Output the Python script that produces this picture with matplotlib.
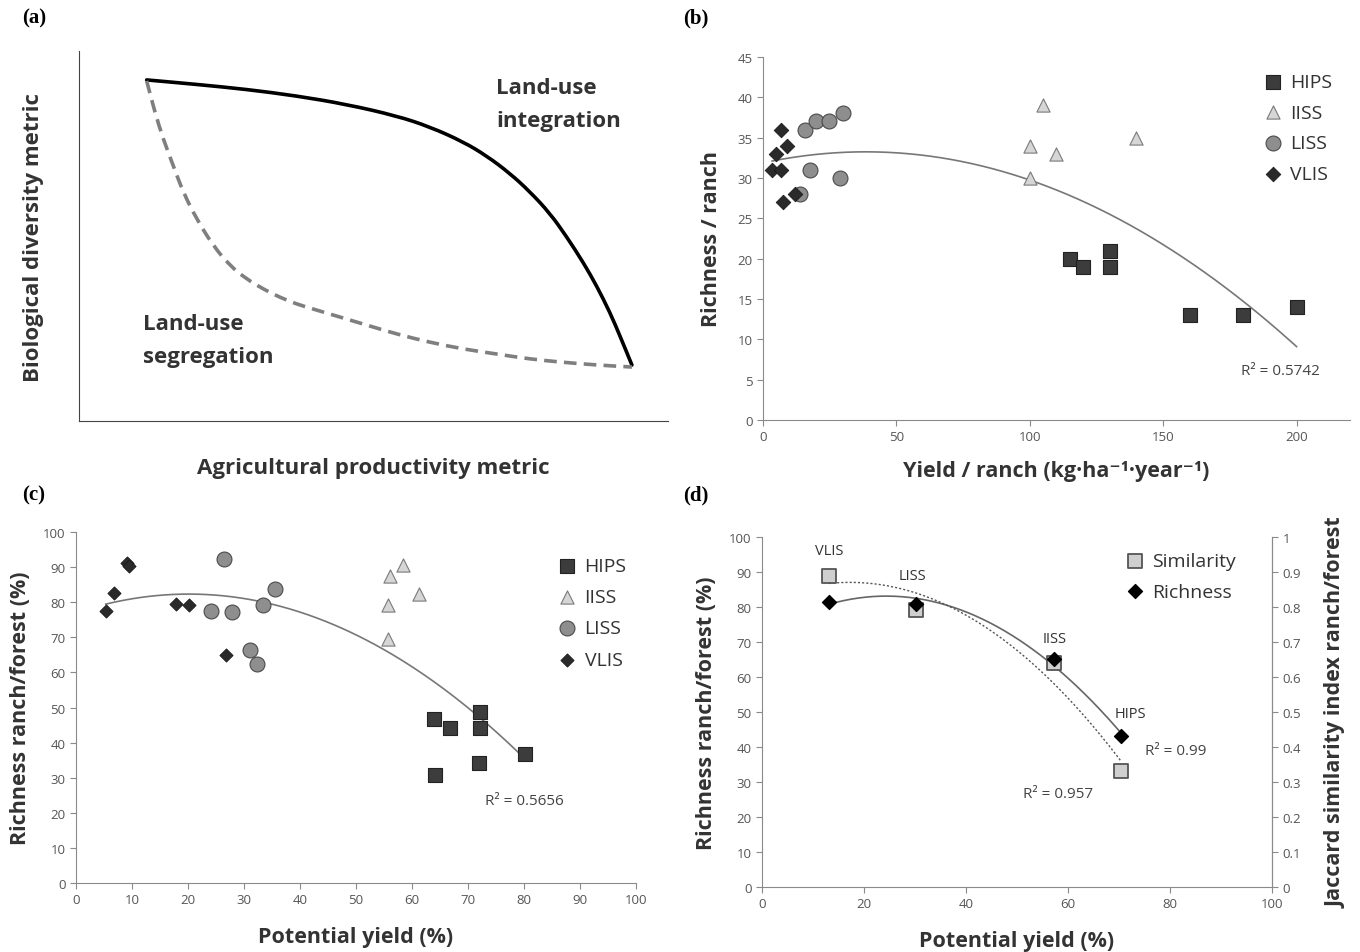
import numpy as np
import matplotlib.pyplot as plt
from matplotlib.path import Path
from matplotlib.patches import PathPatch

plt.rcParams['font.family'] = ['Open Sans', 'DejaVu Sans']

integ_x = [0.1149, 0.1998, 0.2847, 0.3696, 0.4545, 0.5394, 0.5959, 0.6525, 0.6922,
           0.7317, 0.7657, 0.7997, 0.8280, 0.8562, 0.8789, 0.9015, 0.9185, 0.9389]
integ_y = [0.9224, 0.9103, 0.8968, 0.8792, 0.8562, 0.8251, 0.7954, 0.7549, 0.7170,
           0.6697, 0.6200, 0.5616, 0.4984, 0.4289, 0.3657, 0.2938, 0.2305, 0.1514]
segr_x = [0.1149, 0.1290, 0.1431, 0.1601, 0.1771, 0.1998, 0.2280, 0.2564, 0.2847,
          0.3129, 0.3413, 0.3696, 0.3978, 0.4261, 0.4827, 0.5394, 0.5959, 0.6525,
          0.7092, 0.7657, 0.8222, 0.8789, 0.9389]
segr_y = [0.9197, 0.8343, 0.7622, 0.6900, 0.6181, 0.5459, 0.4738, 0.4197, 0.3838,
          0.3568, 0.3343, 0.3162, 0.3027, 0.2892, 0.2622, 0.2351, 0.2127, 0.1946,
          0.1811, 0.1676, 0.1586, 0.1514, 0.1459]

# ---- (b) richness / ranch vs yield / ranch
groups = ['HIPS', 'IISS', 'LISS', 'VLIS']
b_hips_x = [115, 120, 130, 130, 160, 180, 200]
b_hips_y = [20, 19, 21, 19, 13, 13, 14]
b_iiss_x = [100, 105, 110, 100, 140]
b_iiss_y = [34, 39, 33, 30, 35]
b_liss_x = [14, 17.6, 15.8, 19.9, 24.8, 29.9, 28.7]
b_liss_y = [28, 31, 36, 37, 37, 38, 30]
b_vlis_x = [3.4, 6.7, 4.8, 6.7, 8.9, 7.6, 12]
b_vlis_y = [31, 31, 33, 36, 34, 27, 28]

# ---- (c) richness ranch/forest vs potential yield
c_hips_x = [64.0, 66.8, 72.2, 72.2, 72.0, 64.1, 80.1]
c_hips_y = [46.6, 44.3, 48.7, 44.3, 34.1, 30.8, 36.7]
c_iiss_x = [55.7, 56.1, 58.4, 61.3, 55.7]
c_iiss_y = [79.1, 87.6, 90.5, 82.4, 69.6]
c_liss_x = [26.5, 24.1, 27.9, 33.4, 35.6, 31.1, 32.3]
c_liss_y = [92.4, 77.4, 77.2, 79.1, 83.8, 66.5, 62.5]
c_vlis_x = [5.3, 6.7, 9.1, 9.4, 17.8, 20.1, 26.7]
c_vlis_y = [77.4, 82.5, 91.2, 90.3, 79.5, 79.1, 65.1]

# ---- (d) group means
d_names = ['VLIS', 'LISS', 'IISS', 'HIPS']
d_yield = [13.1, 30.1, 57.3, 70.3]
d_richness = [81.5, 80.8, 65.1, 43.1]
d_similarity = [0.889, 0.79, 0.64, 0.33]

styles = {
    'HIPS': dict(marker='s', s=100, c='#3c3c3c', edgecolors='#222222', linewidths=0.8),
    'IISS': dict(marker='^', s=90, c='#d6d6d6', edgecolors='#7a7a7a', linewidths=0.8),
    'LISS': dict(marker='o', s=115, c='#8e8e8e', edgecolors='#4a4a4a', linewidths=0.8),
    'VLIS': dict(marker='D', s=55, c='#2a2a2a', edgecolors='#1a1a1a', linewidths=0.6),
}

axis_col = '#8a8a8a'
tick_col = '#555555'
label_col = '#333333'
lab_fs = 15.5
leg_kw = dict(frameon=False, fontsize=14, handlelength=1.2, handletextpad=0.3,
              borderaxespad=0, labelcolor='#333333', loc='upper left')


def excel_axes(ax):
    for side in ['top', 'right']:
        ax.spines[side].set_visible(False)
    for side in ['left', 'bottom']:
        ax.spines[side].set_color(axis_col)
    ax.tick_params(colors=axis_col, labelcolor=tick_col, labelsize=9.5, length=4, width=0.8)


def trend(ax, xs, ys, **kw):
    coef = np.polyfit(xs, ys, 2)
    xx = np.linspace(min(xs), max(xs), 200)
    ax.plot(xx, np.polyval(coef, xx), **kw)


def smooth_path(xs, ys):
    # read points used as quadratic bezier controls, curve runs through the midpoints
    pts = np.column_stack([xs, ys])
    mids = (pts[:-1] + pts[1:]) / 2
    verts = [pts[0], mids[0]]
    codes = [Path.MOVETO, Path.LINETO]
    for i in range(1, len(pts) - 1):
        verts += [pts[i], mids[i]]
        codes += [Path.CURVE3, Path.CURVE3]
    verts.append(pts[-1])
    codes.append(Path.LINETO)
    return Path(verts, codes)


fig = plt.figure(figsize=(13.6, 9.53), dpi=100)

# (a)
ax = fig.add_axes([0.0581, 0.5572, 0.433, 0.388])
ax.set_xlim(0, 1)
ax.set_ylim(0, 1)
ax.add_patch(PathPatch(smooth_path(integ_x, integ_y), fill=False, edgecolor='black', lw=2.6,
                       capstyle='round'))
ax.add_patch(PathPatch(smooth_path(segr_x, segr_y), fill=False, edgecolor='#7f7f7f', lw=2.6,
                       linestyle=(0, (3.5, 2))))
ax.spines['top'].set_visible(False)
ax.spines['right'].set_visible(False)
ax.spines['left'].set_color('#444444')
ax.spines['bottom'].set_color('#444444')
ax.set_xticks([])
ax.set_yticks([])
ax.text(0.708, 0.929, 'Land-use\nintegration', fontsize=16, fontweight='bold', color=label_col,
        va='top', linespacing=1.75)
ax.text(0.108, 0.292, 'Land-use\nsegregation', fontsize=16, fontweight='bold', color=label_col,
        va='top', linespacing=1.75)
ax.set_ylabel('Biological diversity metric', fontsize=16, fontweight='bold', color=label_col, labelpad=25)
ax.set_xlabel('Agricultural productivity metric', fontsize=16, fontweight='bold', color=label_col, labelpad=26)

# (b)
ax = fig.add_axes([0.561, 0.5582, 0.4316, 0.381])
excel_axes(ax)
bx = [b_hips_x, b_iiss_x, b_liss_x, b_vlis_x]
by = [b_hips_y, b_iiss_y, b_liss_y, b_vlis_y]
for g, xs, ys in zip(groups, bx, by):
    ax.scatter(xs, ys, label=g, zorder=3, **styles[g])
trend(ax, sum(bx, []), sum(by, []), color='#777777', lw=1.2, zorder=2)
ax.set_xlim(0, 220)
ax.set_ylim(0, 45)
ax.set_xticks(range(0, 201, 50))
ax.set_yticks(range(0, 46, 5))
ax.text(179, 6.2, 'R² = 0.5742', fontsize=11, color='#444444', va='center')
ax.set_ylabel('Richness / ranch', fontsize=lab_fs, fontweight='bold', color=label_col, labelpad=11)
ax.set_xlabel('Yield / ranch (kg·ha⁻¹·year⁻¹)', fontsize=lab_fs, fontweight='bold', color=label_col,
              labelpad=12)
ax.legend(bbox_to_anchor=(0.835, 0.978), labelspacing=0.66, **leg_kw)

# (c)
ax = fig.add_axes([0.0559, 0.0724, 0.4118, 0.3683])
excel_axes(ax)
cx = [c_hips_x, c_iiss_x, c_liss_x, c_vlis_x]
cy = [c_hips_y, c_iiss_y, c_liss_y, c_vlis_y]
for g, xs, ys in zip(groups, cx, cy):
    st = dict(styles[g])
    if g == 'VLIS':
        st['s'] = 45
    ax.scatter(xs, ys, label=g, zorder=3, **st)
trend(ax, sum(cx, []), sum(cy, []), color='#777777', lw=1.2, zorder=2)
ax.set_xlim(0, 100)
ax.set_ylim(0, 100)
ax.set_xticks(range(0, 101, 10))
ax.set_yticks(range(0, 101, 10))
ax.text(73, 23.4, 'R² = 0.5656', fontsize=11, color='#444444', va='center')
ax.set_ylabel('Richness ranch/forest (%)', fontsize=lab_fs, fontweight='bold', color=label_col, labelpad=9)
ax.set_xlabel('Potential yield (%)', fontsize=lab_fs, fontweight='bold', color=label_col, labelpad=14)
ax.legend(bbox_to_anchor=(0.842, 0.951), labelspacing=0.68, **leg_kw)

# (d)
ax = fig.add_axes([0.5603, 0.0682, 0.375, 0.3673])
excel_axes(ax)
ax.spines['right'].set_visible(True)
ax.spines['right'].set_color(axis_col)
ax2 = ax.twinx()
for side in ['top', 'left', 'bottom']:
    ax2.spines[side].set_visible(False)
ax2.spines['right'].set_color(axis_col)
ax2.tick_params(colors=axis_col, labelcolor=tick_col, labelsize=9.5, length=4, width=0.8)

trend(ax, d_yield, d_richness, color='#666666', lw=1.2, zorder=2)
trend(ax2, d_yield, d_similarity, color='#555555', lw=1.0, ls=(0, (1.5, 1.5)), zorder=2)
ax2.scatter(d_yield, d_similarity, marker='s', s=100, c='#cfcfcf', edgecolors='#555555',
            linewidths=1.3, zorder=3, label='Similarity')
ax2.scatter(d_yield, [r / 100 for r in d_richness], marker='D', s=50, c='black', zorder=4,
            label='Richness')
ax.set_xlim(0, 100)
ax.set_ylim(0, 100)
ax2.set_ylim(0, 1)
ax.set_xticks(range(0, 101, 20))
ax.set_yticks(range(0, 101, 10))
ax2.set_yticks(np.arange(0, 1.01, 0.1))
ax2.set_yticklabels(['0', '0.1', '0.2', '0.3', '0.4', '0.5', '0.6', '0.7', '0.8', '0.9', '1'])
label_pos = [(13.1, 96), (29.4, 89), (57.3, 71), (72.2, 49.5)]
for name, (lx, ly) in zip(d_names, label_pos):
    ax.text(lx, ly, name, fontsize=10.5, color='#333333', ha='center', va='center')
ax.text(75, 38.9, 'R² = 0.99', fontsize=11, color='#444444', va='center')
ax.text(51.2, 26.6, 'R² = 0.957', fontsize=11, color='#444444', va='center')
ax.set_ylabel('Richness ranch/forest (%)', fontsize=lab_fs, fontweight='bold', color=label_col, labelpad=9)
ax.set_xlabel('Potential yield (%)', fontsize=lab_fs, fontweight='bold', color=label_col, labelpad=14)
ax2.set_ylabel('Jaccard similarity index ranch/forest', fontsize=lab_fs, fontweight='bold',
               color=label_col, labelpad=18)
ax2.legend(bbox_to_anchor=(0.693, 0.978), labelspacing=0.62, **leg_kw)

# panel letters
for lbl, (px, py) in zip(['(a)', '(b)', '(c)', '(d)'],
                         [(22, 18), (683, 18), (22, 495), (683, 495)]):
    fig.text(px / 1360, 1 - py / 953, lbl, fontsize=15, fontweight='bold',
             family='Liberation Serif', va='center', ha='left')

fig.savefig('out.png', dpi=100)
